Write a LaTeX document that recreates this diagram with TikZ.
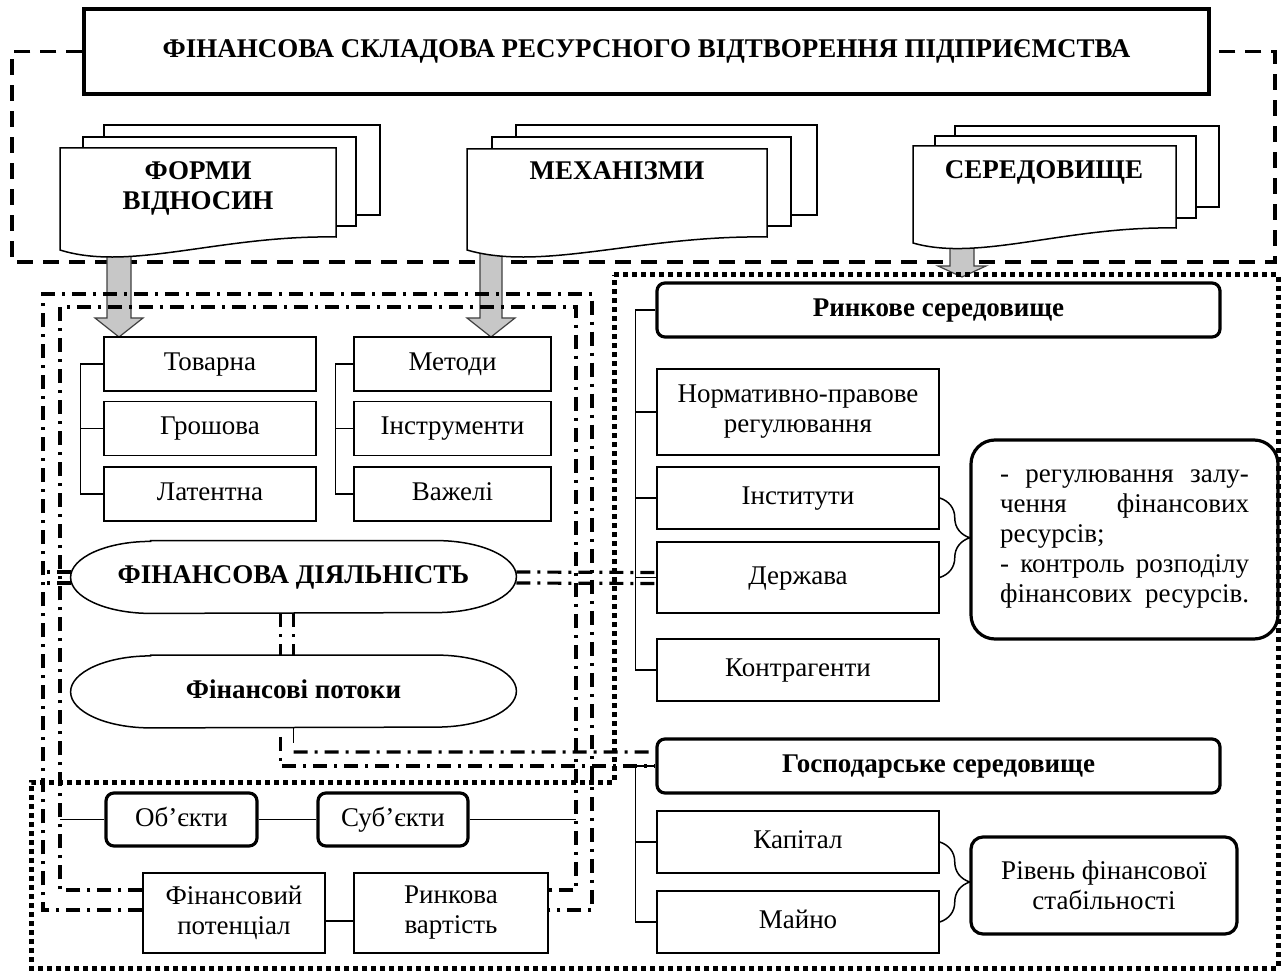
\documentclass[tikz,border=0pt]{standalone}
\usepackage{fontspec}
\setmainfont{Liberation Serif}
\usetikzlibrary{decorations.pathreplacing}

\tikzset{
  txt/.style={font=\fontsize{13.5}{15}\selectfont},
  box/.style={txt, draw, line width=0.75pt, fill=white, align=center, inner sep=1pt},
  one/.style={text height=9.5pt, text depth=3pt},
  rbox/.style={box, line width=1.6pt, rounded corners=4pt},
  sheet/.style={draw, line width=0.75pt, fill=white},
  bigdash/.style={line width=1.6pt, dash pattern=on 8pt off 5pt},
  dashdot/.style={line width=1.6pt, dash pattern=on 7pt off 3.5pt on 1.5pt off 3.5pt},
  sqdots/.style={line width=2.5pt, dash pattern=on 2.5pt off 2pt},
  garrow/.style={fill=black!22, draw=black!75, line width=0.6pt},
  link/.style={line width=0.75pt},
  bracel/.style={link, decorate, decoration={brace, amplitude=15pt}},
}

\begin{document}
\begin{tikzpicture}[x=0.5pt,y=-0.5pt]
\useasboundingbox (0,0) rectangle (1284,972);
%% title and outer frame
\node[box, one, line width=1.6pt, minimum width=562.5pt, minimum height=42.5pt] (title) at (646.5,51.5) {\textbf{ФІНАНСОВА СКЛАДОВА РЕСУРСНОГО ВІДТВОРЕННЯ ПІДПРИЄМСТВА}};
\draw[bigdash] (title.west) -- (12,51.5) -- (12,262) -- (1275,262) -- (1275,51.5) -- (title.east);
%% grey arrows
\draw[garrow] (107,245) -- (131,245) -- (131,318) -- (143,318) -- (119,337) -- (95,318) -- (107,318) -- cycle;
\draw[garrow] (480,245) -- (502,245) -- (502,318) -- (515,318) -- (491,337) -- (467,318) -- (480,318) -- cycle;
\draw[garrow] (950,238) -- (974,238) -- (974,266) -- (986,266) -- (962,277) -- (938,266) -- (950,266) -- cycle;
%% documents
\draw[sheet] (104,125) rectangle (380,215);
\draw[sheet] (83,137) rectangle (356,226);
\draw[sheet] (60,148) -- (336,148) -- (336,237) .. controls (220,235) and (130,272) .. (60,250) -- cycle;
\draw[sheet] (516,125) rectangle (817,215);
\draw[sheet] (492,137) rectangle (791,226);
\draw[sheet] (467,149) -- (767,149) -- (767,237) .. controls (641,235) and (542,272) .. (467,250) -- cycle;
\draw[sheet] (955,126) rectangle (1219,207);
\draw[sheet] (935,136) rectangle (1196,218);
\draw[sheet] (913,146) -- (1176,146) -- (1176,228) .. controls (1066,226) and (979,262) .. (913,243) -- cycle;
\node[txt, align=center] (forms) at (198,188) {\textbf{ФОРМИ}\\\textbf{ВІДНОСИН}};
\node[txt, one] (mech) at (617,173) {\textbf{МЕХАНІЗМИ}};
\node[txt, one] (env) at (1044,172) {\textbf{СЕРЕДОВИЩЕ}};
%% left part
\node[box, one, minimum width=106pt, minimum height=27pt] (tov) at (210,364) {Товарна};
\node[box, one, minimum width=106pt, minimum height=27pt] (gro) at (210,428.5) {Грошова};
\node[box, one, minimum width=106pt, minimum height=27pt] (lat) at (210,494) {Латентна};
\node[box, one, minimum width=98.5pt, minimum height=27pt] (met) at (452.5,364) {Методи};
\node[box, one, minimum width=98.5pt, minimum height=27pt] (instr) at (452.5,428.5) {Інструменти};
\node[box, one, minimum width=98.5pt, minimum height=27pt] (vaz) at (452.5,494) {Важелі};
\node[txt, one, minimum width=222.5pt, minimum height=36pt, inner sep=0pt] (fd) at (293.5,577) {\textbf{ФІНАНСОВА ДІЯЛЬНІСТЬ}};
\node[txt, one, minimum width=222.5pt, minimum height=36pt, inner sep=0pt] (fp) at (293.5,691.5) {\textbf{Фінансові потоки}};
\foreach \c in {fd,fp}
  \draw[link] ([xshift=40pt]\c.north west) -- ([xshift=-40pt]\c.north east) arc[start angle=90, end angle=-90, x radius=40pt, y radius=18pt] -- ([xshift=40pt]\c.south west) arc[start angle=270, end angle=90, x radius=40pt, y radius=18pt] -- cycle;
\node[rbox, one, minimum width=75.5pt, minimum height=26.5pt] (obj) at (181.5,819.5) {Об’єкти};
\node[rbox, one, minimum width=75pt, minimum height=26.5pt] (subj) at (393,819.5) {Суб’єкти};
\node[box, minimum width=91pt, minimum height=40pt] (fpot) at (234,913) {Фінансовий\\потенціал};
\node[box, minimum width=97pt, minimum height=40pt] (rvar) at (451,913) {Ринкова\\вартість};
%% right part
\node[rbox, one, minimum width=281.5pt, minimum height=27pt] (rynok) at (938.5,310) {\textbf{Ринкове середовище}};
\node[box, minimum width=141pt, minimum height=43pt] (norm) at (798,412) {Нормативно-правове\\регулювання};
\node[box, one, minimum width=141pt, minimum height=31pt] (inst) at (798,498) {Інститути};
\node[box, one, minimum width=141pt, minimum height=35.5pt] (derzh) at (798,577.5) {Держава};
\node[box, one, minimum width=141pt, minimum height=31pt] (kontr) at (798,670) {Контрагенти};
\node[rbox, rounded corners=12pt, minimum width=153.5pt, minimum height=99.5pt, align=left] (regul) at (1124.5,539.5) {\makebox[124.5pt][s]{- регулювання залу-}\\\makebox[124.5pt][s]{чення фінансових}\\ресурсів;\\\makebox[124.5pt][s]{- контроль розподілу}\\\makebox[124.5pt][s]{фінансових ресурсів.}};
\node[rbox, one, minimum width=281.5pt, minimum height=27pt] (gosp) at (938.5,766) {\textbf{Господарське середовище}};
\node[box, one, minimum width=141pt, minimum height=31pt] (kap) at (798,842) {Капітал};
\node[box, one, minimum width=141pt, minimum height=31pt] (maino) at (798,922) {Майно};
\node[rbox, rounded corners=6pt, minimum width=133pt, minimum height=48.5pt] (riven) at (1104,885.5) {Рівень фінансової\\стабільності};
%% frames
\draw[sqdots] (614,275) -- (1278,275) -- (1278,968) -- (31,968) -- (31,782) -- (614,782) -- cycle;
\draw[dashdot] ([yshift=1.5pt]fpot.west) -- (43,910) -- (43,294) -- (592,294) -- (592,910) -- ([yshift=1.5pt]rvar.east);
\draw[dashdot] ([yshift=11.5pt]fpot.west) -- (60,890) -- (60,307) -- (576,307) -- (576,890) -- ([yshift=11.5pt]rvar.east);
%% links
\draw[dashdot] ([yshift=2.5pt]fd.west) -- (43,572);
\draw[dashdot] ([yshift=-3pt]fd.west) -- (43,583);
\draw[dashdot] ([yshift=2.5pt]fd.east) -- ([yshift=2.5pt]derzh.west);
\draw[dashdot] ([yshift=-3pt]fd.east) -- ([yshift=-3pt]derzh.west);
\draw[dashdot] ([xshift=-6.5pt]fd.south) -- ([xshift=-6.5pt]fp.north);
\draw[dashdot] (fd.south) -- (fp.north);
\draw[link] (fp.south) -- ++(0,-7.5pt);
\draw[dashdot] ([yshift=-12pt]fp.south) -- ([yshift=7pt]gosp.west);
\draw[dashdot] ([xshift=-6.5pt,yshift=-4.5pt]fp.south) |- (gosp.west);
\draw[link] (tov.west) -- ++(-11.5pt,0) |- (lat.west);
\draw[link] (gro.west) -- ++(-11.5pt,0);
\draw[link] (met.west) -- ++(-9pt,0) |- (vaz.west);
\draw[link] (instr.west) -- ++(-9pt,0);
\draw[link] (rynok.west) -- ++(-10pt,0) |- (kontr.west);
\foreach \n in {norm,inst,derzh}
  \draw[link] (\n.west) -- ++(-10pt,0);
\draw[link] (gosp.west) -- ++(-10pt,0) |- (maino.west);
\draw[link] (kap.west) -- ++(-10pt,0);
\draw[bracel] (inst.east) -- (derzh.east);
\draw[bracel] (kap.east) -- (maino.east);
\draw[link] (60,819.5) -- (obj.west);
\draw[link] (obj.east) -- (subj.west);
\draw[link] (subj.east) -- (576,819.5);
\draw[link] ([yshift=-4pt]fpot.east) -- ([yshift=-4pt]rvar.west);
\end{tikzpicture}
\end{document}
